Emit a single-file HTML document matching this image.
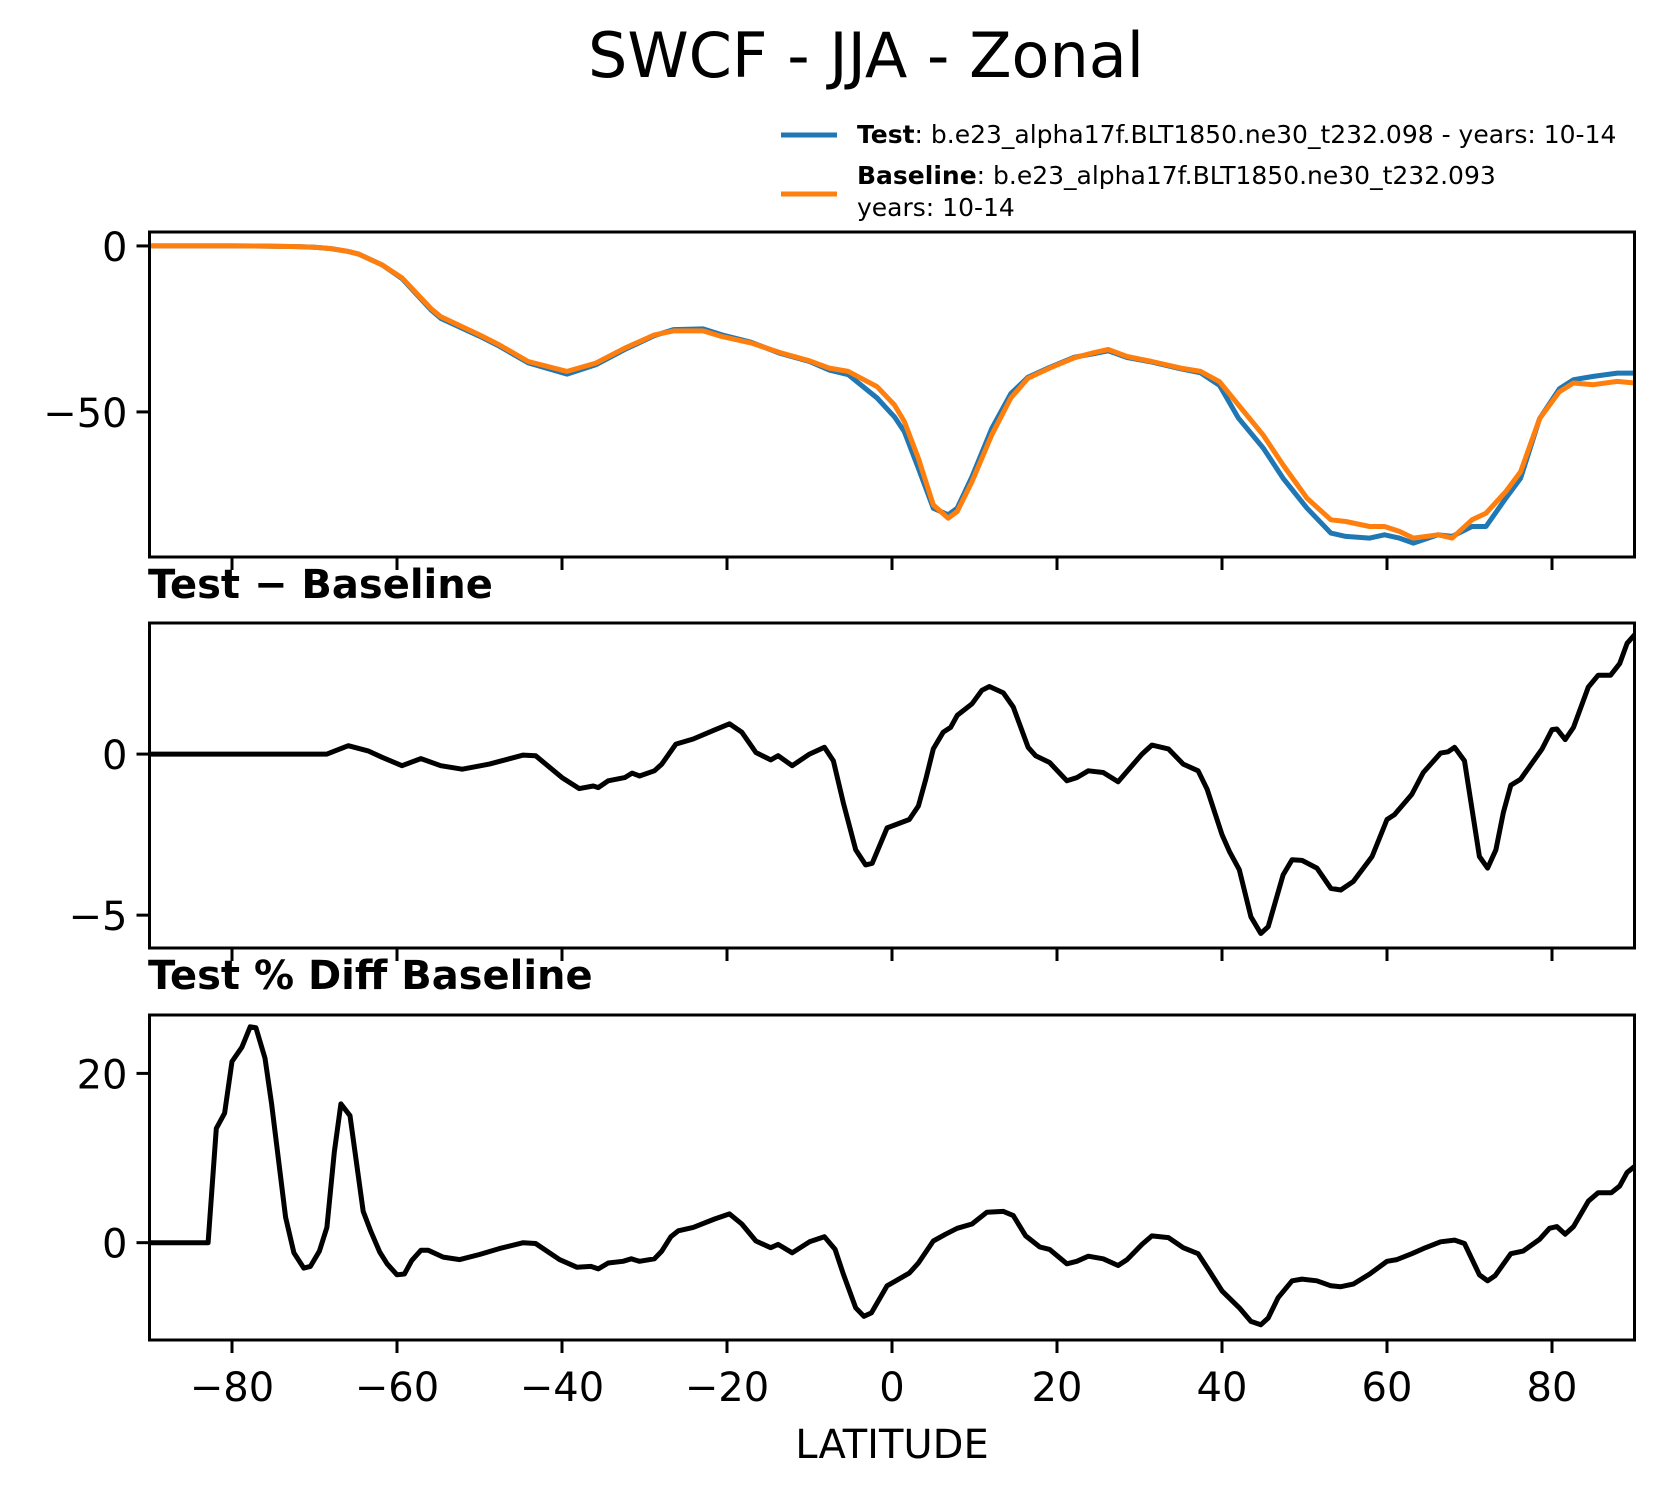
<!DOCTYPE html>
<html><head><meta charset="utf-8">
<style>
html,body{margin:0;padding:0;background:#fff;}
svg{display:block;font-family:"DejaVu Sans","Liberation Sans",sans-serif;}
</style></head>
<body>
<svg id="fig" width="1665" height="1496" viewBox="0 0 1665 1496" xmlns="http://www.w3.org/2000/svg">
<text x="866" y="77" font-size="62" text-anchor="middle">SWCF - JJA - Zonal</text>
<g>
  <line x1="781" y1="135" x2="837" y2="135" stroke="#1f77b4" stroke-width="5"/>
  <text x="857" y="143" font-size="25"><tspan font-weight="bold">Test</tspan>: b.e23_alpha17f.BLT1850.ne30_t232.098 - years: 10-14</text>
  <line x1="781" y1="194" x2="837" y2="194" stroke="#ff7f0e" stroke-width="5"/>
  <text x="857" y="184" font-size="25"><tspan font-weight="bold">Baseline</tspan>: b.e23_alpha17f.BLT1850.ne30_t232.093</text>
  <text x="857" y="216" font-size="25">years: 10-14</text>
</g>
<text x="148" y="598" font-size="40" font-weight="bold">Test − Baseline</text>
<text x="148" y="989" font-size="40" font-weight="bold">Test % Diff Baseline</text>
<text x="892" y="1458" font-size="40" text-anchor="middle">LATITUDE</text>
</svg>
<script>
// ---- data ----
const meanLat = [-90,-80,-76,-72,-70,-68,-66,-64.7,-61.8,-59.4,-55.9,-54.7,-50,-47.6,-44.1,-39.4,-35.9,-32.4,-28.8,-26.5,-22.9,-20.6,-17.1,-13.5,-10,-7.6,-5.3,-1.8,0.3,1.5,3.2,5,6.8,7.9,9.7,12.1,14.4,16.5,19.1,22.1,24.4,26.2,28.5,31.5,35,37.4,39.7,42,45,47.4,50.3,53.2,55,57.9,59.7,61.5,63.2,66.2,67.9,70.3,72,74.4,76.2,78.5,80.9,82.6,85,87.9,90];
const baselineVals = [0,0,-0.05,-0.2,-0.4,-0.8,-1.6,-2.4,-5.7,-9.6,-18.8,-21.3,-26.8,-29.8,-34.8,-37.8,-35.3,-30.8,-26.8,-25.6,-25.6,-27.3,-29.2,-32.2,-34.6,-36.8,-37.8,-42.4,-47.9,-52.9,-64,-78,-82,-80,-71,-56.9,-45.8,-39.8,-36.8,-33.7,-32.2,-31.2,-33.3,-34.8,-36.8,-37.8,-40.9,-47.9,-57,-66,-76,-82.5,-83,-84.5,-84.5,-86,-88,-87,-88,-82.5,-80.5,-74,-68,-52,-43.9,-41.3,-41.8,-40.8,-41.3];
const testVals = [0,0,-0.05,-0.2,-0.4,-0.8,-1.6,-2.4,-5.7,-9.8,-19.2,-21.8,-27.2,-30.2,-35.2,-38.6,-35.8,-31.2,-27,-25.2,-25,-26.8,-29,-32.4,-34.8,-37.4,-38.8,-45.8,-51.5,-56,-67,-79,-81,-79,-69.5,-55,-44.5,-39.5,-36.6,-33.5,-32.5,-31.6,-33.6,-35,-37,-38.2,-42,-51.9,-60.9,-70,-79,-86.5,-87.5,-88,-87,-88,-89.5,-87,-87.5,-84.5,-84.5,-76,-70,-52,-43,-40.3,-39.3,-38.3,-38.3];

const diffLat = [-90,-80,-68.5,-65.9,-63.5,-61.8,-59.4,-57.1,-54.7,-52.1,-48.8,-44.7,-43.2,-40,-37.9,-36.2,-35.6,-34.4,-32.4,-31.5,-30.6,-28.8,-27.9,-26.2,-24.1,-21.5,-19.7,-18.2,-16.5,-14.7,-13.8,-12.1,-10,-8.2,-7.1,-5.9,-4.4,-3.2,-2.4,-0.6,2.1,3.2,4.1,5,6.2,7.1,7.9,9.7,10.9,11.8,13.5,14.7,16.5,17.4,19.1,21.2,22.4,23.8,25.6,27.4,30.3,31.5,33.5,35.3,37.1,38.2,40,40.9,42.1,43.5,44.7,45.6,47.4,48.5,49.7,51.5,53.2,54.4,55.9,58.2,60,60.9,63,64.4,66.5,67.4,68.2,69.4,71.2,72.2,73.2,74.1,75,76.2,78.8,80,80.6,81.6,82.6,84.4,85.6,87.1,88.2,89.1,90];
const diffVals = [0,0,0,0.26,0.1,-0.1,-0.36,-0.14,-0.36,-0.47,-0.31,-0.03,-0.05,-0.73,-1.07,-0.99,-1.04,-0.83,-0.73,-0.59,-0.68,-0.52,-0.31,0.31,0.47,0.75,0.94,0.68,0.05,-0.18,-0.05,-0.36,0,0.21,-0.21,-1.51,-2.97,-3.44,-3.39,-2.29,-2.03,-1.61,-0.78,0.16,0.68,0.83,1.2,1.56,1.98,2.1,1.9,1.46,0.21,-0.05,-0.26,-0.83,-0.73,-0.52,-0.57,-0.86,0,0.28,0.16,-0.31,-0.52,-1.09,-2.5,-3.02,-3.59,-5.05,-5.57,-5.36,-3.75,-3.28,-3.3,-3.54,-4.17,-4.22,-3.96,-3.18,-2.03,-1.88,-1.25,-0.57,0.03,0.07,0.21,-0.21,-3.18,-3.54,-2.97,-1.82,-0.97,-0.78,0.16,0.76,0.78,0.45,0.83,2.08,2.45,2.45,2.81,3.44,3.7];

const pctLat = [-90,-82.9,-81.9,-80.9,-80,-78.8,-77.8,-77.1,-76,-75.2,-73.5,-72.5,-71.3,-70.5,-69.4,-68.5,-67.6,-66.8,-65.7,-64.1,-63.2,-62.1,-61.2,-60,-59.1,-58.2,-57.1,-56.2,-54.4,-52.4,-50,-47.6,-44.7,-43.2,-40.3,-38.2,-36.5,-35.6,-34.4,-32.6,-31.6,-30.6,-28.8,-27.9,-26.8,-25.9,-24.1,-21.5,-19.7,-18.2,-16.5,-14.7,-13.8,-12.1,-10,-8.2,-6.9,-5.9,-4.4,-3.4,-2.5,-0.6,2.1,3.2,5,6.5,7.9,9.7,11.5,13.5,14.7,16.2,17.9,19.1,21.2,22.4,23.8,25.6,27.4,28.5,30.3,31.5,33.5,35.3,37.1,38.5,40,42.1,43.5,44.7,45.6,46.8,48.5,49.7,51.5,53.2,54.4,55.9,57.9,60,61.2,63,64.4,66.5,68.2,69.4,71.2,72.2,73.1,75,76.5,78.5,79.7,80.6,81.6,82.6,84.4,85.6,87.2,88.2,89.1,90];
const pctVals = [0,0,13.5,15.3,21.4,23.1,25.5,25.4,21.8,16.4,3,-1.2,-3,-2.8,-1,1.8,10.7,16.4,15,3.7,1.4,-1.1,-2.5,-3.8,-3.7,-2.1,-0.9,-0.9,-1.7,-2,-1.4,-0.7,0,-0.1,-2,-2.9,-2.8,-3.1,-2.4,-2.2,-1.9,-2.2,-1.9,-1,0.7,1.4,1.8,2.8,3.4,2.2,0.2,-0.6,-0.2,-1.2,0.1,0.7,-0.8,-3.7,-7.7,-8.7,-8.3,-5.1,-3.6,-2.4,0.2,1,1.7,2.2,3.6,3.7,3.2,0.8,-0.5,-0.8,-2.5,-2.2,-1.6,-1.9,-2.7,-2,-0.2,0.8,0.6,-0.6,-1.3,-3.4,-5.7,-7.7,-9.3,-9.7,-8.9,-6.5,-4.5,-4.3,-4.5,-5.1,-5.2,-4.9,-3.7,-2.2,-2,-1.3,-0.7,0.1,0.3,-0.1,-3.8,-4.5,-3.9,-1.3,-1,0.4,1.7,1.9,1,1.9,4.9,5.9,5.9,6.7,8.3,9];

const xTicks = [-80,-60,-40,-20,0,20,40,60,80];
const p1Ticks = [0,-50];
const p2Ticks = [0,-5];
const p3Ticks = [20,0];

// ---- layout ----
const NS = "http://www.w3.org/2000/svg";
const svg = document.getElementById('fig');
const X0 = 149.5, X1 = 1634.5;
function xScale(lat){ return X0 + (lat + 90) / 180 * (X1 - X0); }
function mkY(top, bottom, vTop, vBot){ return v => top + (vTop - v) / (vTop - vBot) * (bottom - top); }

const panels = [
  {name:'mean-panel', top:232, bottom:557, vTop:4.2, vBot:-93.7, ticks:p1Ticks, xlabels:false},
  {name:'diff-panel', top:623, bottom:948, vTop:4.07, vBot:-6.02, ticks:p2Ticks, xlabels:false},
  {name:'pctdiff-panel', top:1015, bottom:1340, vTop:26.9, vBot:-11.5, ticks:p3Ticks, xlabels:true}
];

function el(tag, attrs, parent){
  const e = document.createElementNS(NS, tag);
  for (const k in attrs) e.setAttribute(k, attrs[k]);
  (parent || svg).appendChild(e);
  return e;
}
function fmt(v){ return v < 0 ? '\u2212' + Math.abs(v) : String(v); }

function drawLine(g, lats, vals, yS, color, name){
  let d = '';
  for (let i = 0; i < lats.length; i++){
    d += (i ? 'L' : 'M') + xScale(lats[i]).toFixed(1) + ',' + yS(vals[i]).toFixed(1);
  }
  const p = el('path', {d:d, fill:'none', stroke:color, 'stroke-width':5, 'stroke-linejoin':'round', 'stroke-linecap':'square'}, g);
  
  
}

panels.forEach((P, idx) => {
  const g = el('g', {});
  
  
  const yS = mkY(P.top, P.bottom, P.vTop, P.vBot);
  const clipId = 'clip' + idx;
  const cp = el('clipPath', {id: clipId}, g);
  el('rect', {x:X0, y:P.top, width:X1-X0, height:P.bottom-P.top}, cp);
  const lg = el('g', {'clip-path':'url(#' + clipId + ')'}, g);
  if (idx === 0){
    drawLine(lg, meanLat, testVals, yS, '#1f77b4', 'test-line');
    drawLine(lg, meanLat, baselineVals, yS, '#ff7f0e', 'baseline-line');
  } else if (idx === 1){
    drawLine(lg, diffLat, diffVals, yS, '#000', 'difference-line');
  } else {
    drawLine(lg, pctLat, pctVals, yS, '#000', 'percent-diff-line');
  }
  const frame = el('rect', {x:X0, y:P.top, width:X1-X0, height:P.bottom-P.top, fill:'none', stroke:'#000', 'stroke-width':3}, g);
  
  
  xTicks.forEach(t => {
    const x = xScale(t);
    const tk = el('line', {x1:x, y1:P.bottom, x2:x, y2:P.bottom+13, stroke:'#000', 'stroke-width':3}, g);
    
    
    if (P.xlabels){
      const tl = el('text', {x:x, y:1401, 'font-size':40, 'text-anchor':'middle'}, g);
      tl.textContent = fmt(t);
      
      
    }
  });
  P.ticks.forEach(t => {
    const y = yS(t);
    const tk = el('line', {x1:X0-13, y1:y, x2:X0, y2:y, stroke:'#000', 'stroke-width':3}, g);
    
    
    const tl = el('text', {x:X0-22, y:y+15, 'font-size':40, 'text-anchor':'end'}, g);
    tl.textContent = fmt(t);
    
    
  });
});
</script>
</body></html>
